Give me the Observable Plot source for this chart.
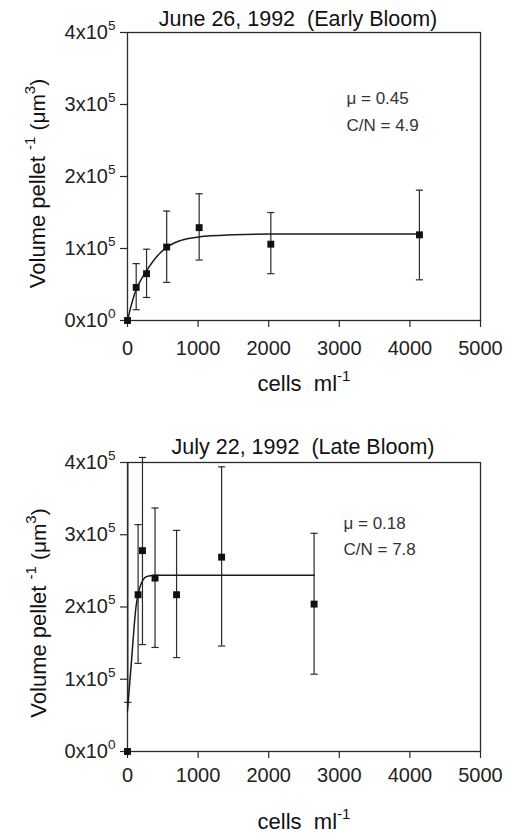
<!DOCTYPE html>
<html><head><meta charset="utf-8">
<script src="https://cdn.jsdelivr.net/npm/d3@7"></script>
<script src="https://cdn.jsdelivr.net/npm/@observablehq/plot@0.6"></script>
<style>
body{margin:0;background:#fff;}
#chart{width:512px;}
#chart svg{display:block;}
</style></head><body><div id="chart"></div>
<script>
// ---- shared axis data ----
const xTicks = [0, 1000, 2000, 3000, 4000, 5000];
const yTicks = [0, 100000, 200000, 300000, 400000];
const yTickLabels = ["0x10^{0}", "1x10^{5}", "2x10^{5}", "3x10^{5}", "4x10^{5}"];
const xAxisLabel = "cells \u00a0ml^{-1}";
const yAxisLabel = "Volume pellet ^{-1} _{(\u03bcm}^{3}_{)}";

// ---- panel A: June 26, 1992 ----
const titleA = "June 26, 1992 \u00a0(Early Bloom)";
const statsA = ["\u03bc = 0.45", "C/N = 4.9"];
const cellsA = [0, 123, 270, 555, 1015, 2030, 4135];
const volA   = [0, 46000, 65000, 102000, 129000, 106000, 119000];
const loA    = [null, 15000, 32000, 53000, 84000, 65000, 56500];
const hiA    = [null, 79000, 99000, 152000, 176000, 150000, 181000];
const fitXA  = [0, 50, 123, 200, 275, 416, 558, 746, 1005, 1500, 2000, 3000, 4135];
const fitYA  = [0, 20000, 43000, 58000, 70000, 89000, 102000, 111000, 116000, 119000, 120000, 120000, 120000];

// ---- panel B: July 22, 1992 ----
const titleB = "July 22, 1992 \u00a0(Late Bloom)";
const statsB = ["\u03bc = 0.18", "C/N = 7.8"];
const cellsB = [0, 5, 150, 212, 390, 695, 1333, 2643];
const volB   = [0, null, 217000, 278000, 240000, 217000, 269000, 204000];
const loB    = [null, 68000, 122000, 148000, 144000, 130000, 146000, 107000];
const hiB    = [null, 400000, 314000, 407000, 337000, 306000, 394000, 302000];
const fitXB  = [0, 60, 120, 160, 200, 250, 300, 400, 1000, 2643];
const fitYB  = [56000, 130000, 200000, 222000, 234000, 241000, 243000, 244000, 244000, 244000];

const capSymbol = {
  draw(ctx, size) { const r = Math.sqrt(size / Math.PI); ctx.moveTo(-r, 0); ctx.lineTo(r, 0); }
};
const INK = "#2a2a2a";

function panel(o) {
  const pts = o.cells.map((x, i) => ({x, y: o.vol[i], lo: o.lo[i], hi: o.hi[i]}));
  const bars = pts.filter(d => d.lo != null);
  const fit = o.fitX.map((x, i) => ({x, y: o.fitY[i]}));
  return Plot.plot({
    width: 512, height: o.height,
    marginLeft: 127, marginRight: 32, marginTop: o.mt, marginBottom: o.mb,
    style: {fontFamily: "'Liberation Sans', Arial, sans-serif", fontSize: "20px", color: "#222", background: "white", overflow: "visible"},
    x: {domain: [0, 5000]},
    y: {domain: [0, 400000]},
    marks: [
      Plot.frame({stroke: INK, strokeWidth: 1.3}),
      Plot.axisX({ticks: xTicks, tickSize: 7, tickPadding: o.xPad, tickFormat: d => String(d), label: null, stroke: INK, strokeWidth: 1.2}),
      Plot.axisY({ticks: yTicks, tickSize: 7, tickPadding: 5, tickFormat: d => yTickLabels[yTicks.indexOf(d)], label: null, stroke: INK, strokeWidth: 1.2}),
      Plot.ruleX(bars, {x: "x", y1: "lo", y2: "hi", stroke: INK, strokeWidth: 1.2}),
      Plot.dot(bars, {x: "x", y: "lo", symbol: capSymbol, r: 3.6, stroke: INK, fill: "none", strokeWidth: 1.2}),
      Plot.dot(bars.filter(d => d.y != null), {x: "x", y: "hi", symbol: capSymbol, r: 3.6, stroke: INK, fill: "none", strokeWidth: 1.2}),
      Plot.line(fit, {x: "x", y: "y", curve: "monotone-x", stroke: "#1a1a1a", strokeWidth: 1.5}),
      Plot.dot(pts.filter(d => d.y != null), {x: "x", y: "y", symbol: "square", r: 3.9, fill: "#111", stroke: "none"}),
      Plot.text([o.title], {frameAnchor: "top", dx: o.titleDx, dy: o.titleDy, lineAnchor: "bottom", textAnchor: "middle", fontSize: 21.5, fill: "#111"}),
      Plot.text([o.stats.join("\n")], {frameAnchor: "top-left", dx: o.statsDx, dy: o.statsDy, lineAnchor: "top", textAnchor: "start", fontSize: 17, lineHeight: o.statsLH, fill: "#333"}),
      Plot.text([xAxisLabel], {frameAnchor: "bottom", dy: o.xlabDy, lineAnchor: "bottom", textAnchor: "middle", fontSize: 22, fill: "#111"}),
      Plot.text([yAxisLabel], {frameAnchor: "left", dx: o.ylabDx, dy: o.ylabDy, rotate: -90, lineAnchor: "bottom", textAnchor: "middle", fontSize: 22, fill: "#111"})
    ]
  });
}

function richify(svg) {
  svg.querySelectorAll("text").forEach(t => {
    const s = t.textContent;
    if (!/[\^_]\{/.test(s) || t.querySelector("tspan")) return;
    const base = parseFloat(getComputedStyle(t).fontSize) || 20;
    while (t.firstChild) t.removeChild(t.firstChild);
    let shift = 0;
    for (const part of s.split(/(\^\{[^}]*\}|_\{[^}]*\})/)) {
      if (!part) continue;
      const ts = document.createElementNS("http://www.w3.org/2000/svg", "tspan");
      let txt = part, fs = base, target = 0;
      if (part.startsWith("^{")) { txt = part.slice(2, -1); fs = base * 0.68; target = -base * 0.45; }
      else if (part.startsWith("_{")) { txt = part.slice(2, -1); fs = base * 0.95; }
      ts.setAttribute("font-size", fs.toFixed(1));
      if (target !== shift) { ts.setAttribute("dy", (target - shift).toFixed(1)); shift = target; }
      ts.textContent = txt;
      t.appendChild(ts);
    }
  });
}

const root = document.getElementById("chart");
const a = panel({title: titleA, stats: statsA, cells: cellsA, vol: volA, lo: loA, hi: hiA, fitX: fitXA, fitY: fitYA,
  height: 400, mt: 32, mb: 80, xPad: 13, titleDx: -6, titleDy: -7, statsDx: 219, statsDy: 52.7, statsLH: 1.56,
  xlabDy: 70, ylabDx: -83, ylabDy: 7});
const b = panel({title: titleB, stats: statsB, cells: cellsB, vol: volB, lo: loB, hi: hiB, fitX: fitXB, fitY: fitYB,
  height: 437, mt: 62, mb: 86, xPad: 9, titleDx: -1, titleDy: -9, statsDx: 216, statsDy: 47.7, statsLH: 1.53,
  xlabDy: 77, ylabDx: -82, ylabDy: 6});
root.appendChild(a);
root.appendChild(b);
richify(a);
richify(b);
</script>
</body></html>
